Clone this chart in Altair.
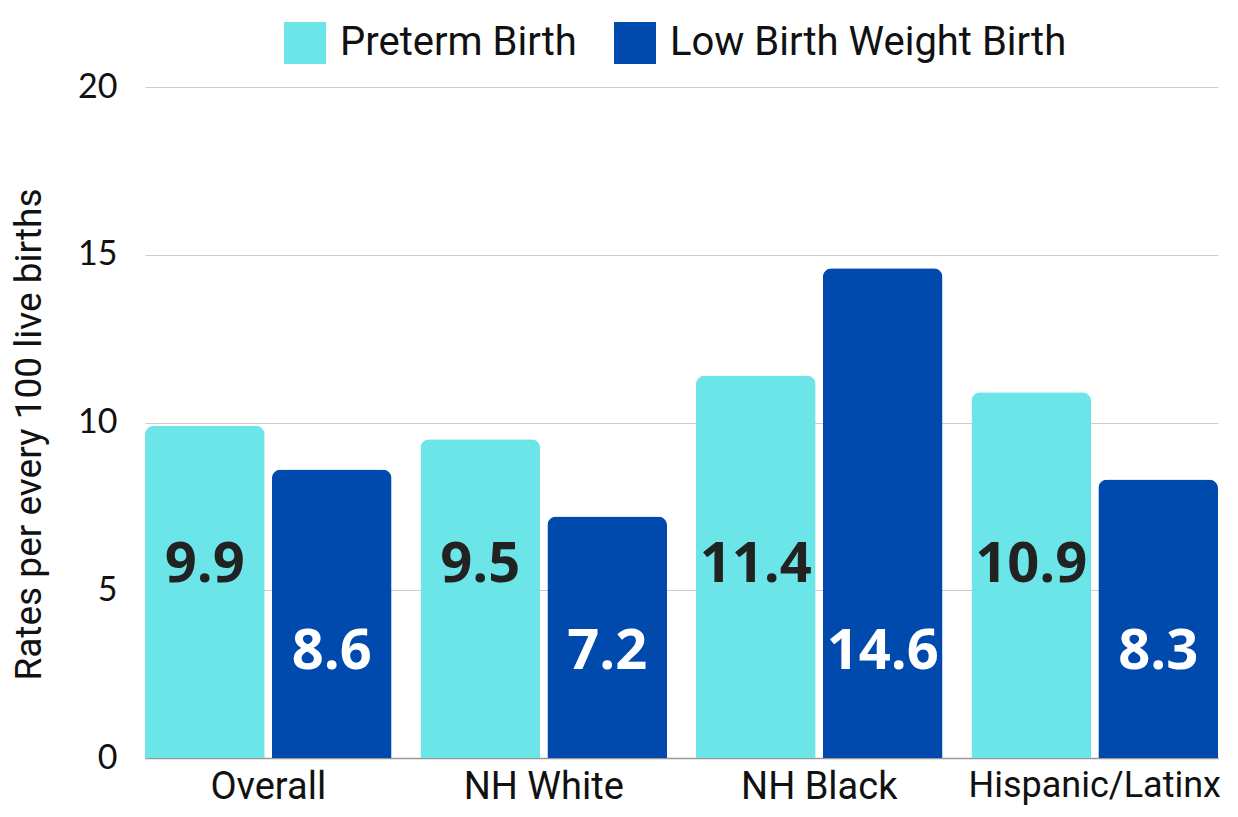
import altair as alt
import pandas as pd

groups = ["Overall", "NH White", "NH Black", "Hispanic/Latinx"]
series = ["Preterm Birth", "Low Birth Weight Birth"]
preterm = [9.9, 9.5, 11.4, 10.9]
lbw = [8.6, 7.2, 14.6, 8.3]
colors = ["#6CE5E8", "#004AAD"]
label_colors = ["#222222", "#FFFFFF"]
label_levels = [5.75, 3.16]

rows = []
for i, g in enumerate(groups):
    for s, vals, lc, ly in zip(series, [preterm, lbw], label_colors, label_levels):
        rows.append({"group": g, "series": s, "value": vals[i],
                     "label": f"{vals[i]:.1f}", "lcolor": lc, "ly": ly})
df = pd.DataFrame(rows)

x = alt.X("group:N", sort=groups, title=None,
          scale=alt.Scale(paddingInner=0.105, paddingOuter=0),
          axis=alt.Axis(labelAngle=0, labelFont="Roboto",
                        labelFontSize={"condition": {"test": "datum.value == 'Hispanic/Latinx'", "value": 36}, "value": 38},
                        labelColor="#111", labelPadding=10, ticks=False,
                        labelLimit=0, labelOverlap=False,
                        domainColor="#999", domainWidth=1.5))
xoff = alt.XOffset("series:N", sort=series, scale=alt.Scale(paddingInner=0.057, paddingOuter=0))

bars = alt.Chart(df).mark_bar(cornerRadiusTopLeft=9, cornerRadiusTopRight=9).encode(
    x=x,
    xOffset=xoff,
    y=alt.Y("value:Q", scale=alt.Scale(domain=[0, 20]),
            title="Rates per every 100 live births",
            axis=alt.Axis(values=[0, 5, 10, 15, 20], ticks=False, domain=False,
                          labelFont="Lato", labelFontSize=34, labelColor="#111",
                          labelPadding=28, gridColor="#cccccc", gridWidth=1,
                          titleFont="Roboto", titleFontSize=37, titleFontWeight="normal",
                          titleColor="#111", titlePadding=29, titleY=347)),
    color=alt.Color("series:N", sort=series,
                    scale=alt.Scale(domain=series, range=colors),
                    legend=alt.Legend(title=None, orient="none", direction="horizontal",
                                      legendX=139, legendY=-65,
                                      symbolType="square", symbolSize=1764,
                                      symbolStrokeWidth=0, symbolOpacity=1,
                                      labelFont="Roboto", labelFontSize=40,
                                      labelColor="#111", labelOffset=14,
                                      columnPadding=37, labelLimit=600)),
)

labels = alt.Chart(df).mark_text(font="Open Sans", fontWeight="bold", fontSize=56,
                                 baseline="middle", align="center").encode(
    x=alt.X("group:N", sort=groups),
    xOffset=xoff,
    y=alt.Y("ly:Q"),
    text="label:N",
    color=alt.Color("lcolor:N", scale=None),
)

chart = (bars + labels).properties(
    width=1073, height=671,
    autosize=alt.AutoSizeParams(type="none"),
    padding={"left": 137, "top": 79, "right": 12, "bottom": 51},
).configure_view(stroke=None)

chart.save("out.html", embed_options={"renderer": "svg", "actions": False})
